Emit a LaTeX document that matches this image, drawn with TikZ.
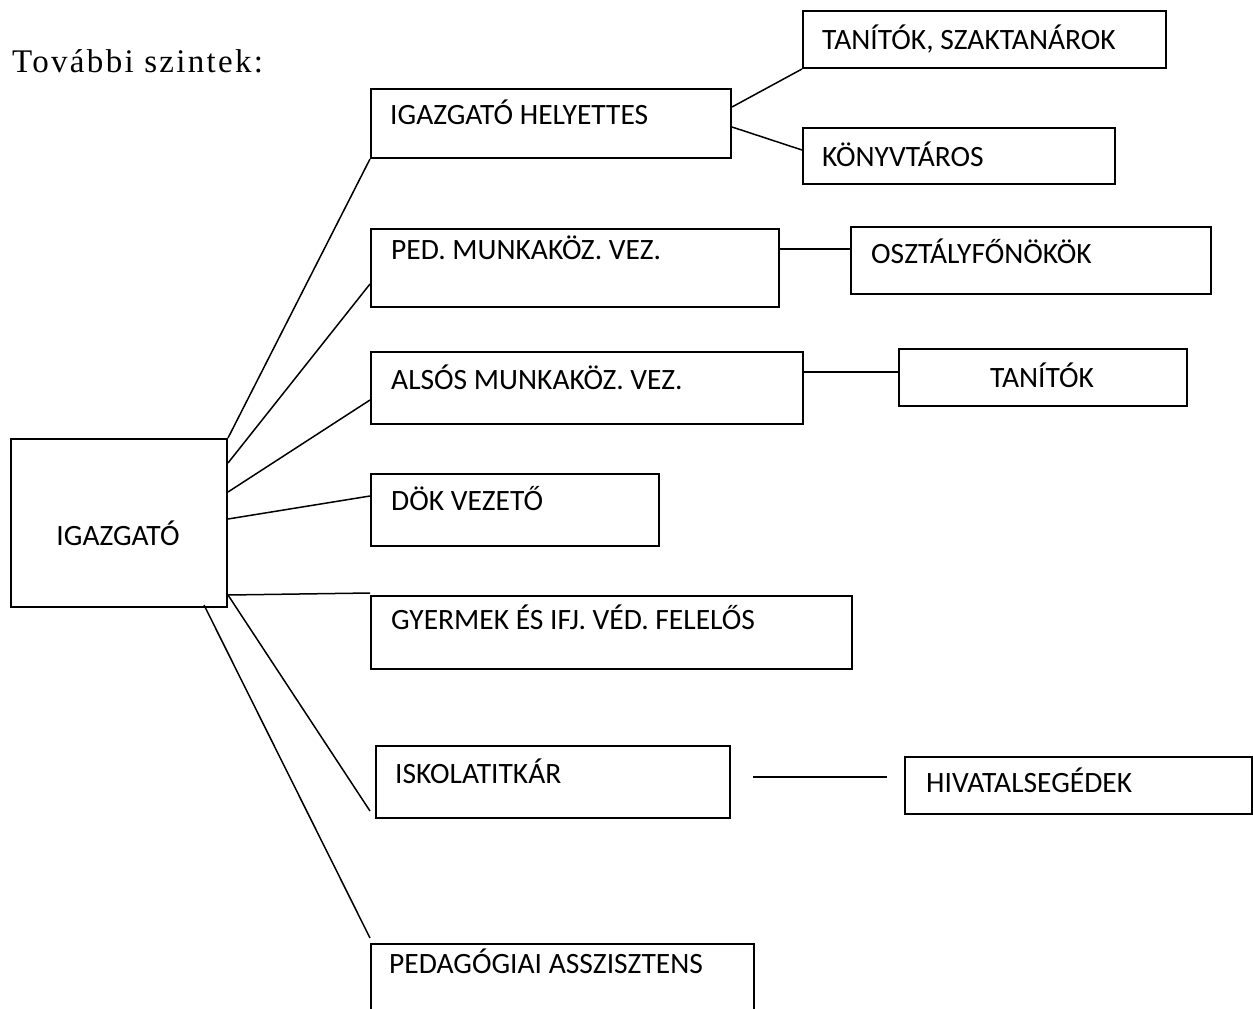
\documentclass[tikz,border=0pt]{standalone}
\usepackage{fontspec}
\usepackage{tikz}
\usetikzlibrary{calc, positioning}
\newfontfamily\dobozbetu{Carlito}
\newfontfamily\cimbetu[LetterSpace=7]{Liberation Serif}
\tikzset{
  doboz/.style={draw, line width=2pt, rectangle, anchor=north west, inner sep=0pt},
  felirat/.style={anchor=base west, inner sep=0pt, font=\dobozbetu\fontsize{29.5}{35}\selectfont},
  vonal/.style={line width=1.5pt}
}

\begin{document}
\begin{tikzpicture}[x=1pt, y=-1pt]
                \useasboundingbox (0,0) rectangle (1253,1009);

                \node[anchor=base west, inner sep=0pt, font=\cimbetu\fontsize{33}{40}\selectfont] (cim) at (12,72) {További szintek:};

                % dobozok
                \node[doboz, minimum width=216, minimum height=168] (igazgato) at (10,438) {};
                \node[doboz, minimum width=360, minimum height=69] (helyettes) at (370,88) {};
                \node[doboz, minimum width=363, minimum height=57] (tanszak) at (802,10) {};
                \node[doboz, minimum width=312, minimum height=56] (konyv) at (802,127) {};
                \node[doboz, minimum width=408, minimum height=78] (ped) at (370,228) {};
                \node[doboz, minimum width=360, minimum height=67] (oszt) at (850,226) {};
                \node[doboz, minimum width=432, minimum height=72] (alsos) at (370,351) {};
                \node[doboz, minimum width=288, minimum height=57] (tanitok) at (898,348) {};
                \node[doboz, minimum width=288, minimum height=72] (dok) at (370,473) {};
                \node[doboz, minimum width=481, minimum height=73] (gyermek) at (370,595) {};
                \node[doboz, minimum width=354, minimum height=72] (iskola) at (375,745) {};
                \node[doboz, minimum width=347, minimum height=57] (hivatal) at (904,756) {};
                \node[doboz, minimum width=383, minimum height=80] (pedassz) at (370,943) {};

                % feliratok
                \node[felirat, anchor=base] (t-igazgato) at (118,545) {IGAZGATÓ};
                \node[felirat] (t-helyettes) at (390,124) {IGAZGATÓ HELYETTES};
                \node[felirat] (t-tanszak) at (822,49) {TANÍTÓK, SZAKTANÁROK};
                \node[felirat] (t-konyv) at (822,166) {KÖNYVTÁROS};
                \node[felirat] (t-ped) at (391,259) {PED. MUNKAKÖZ. VEZ.};
                \node[felirat] (t-oszt) at (871,263) {OSZTÁLYFŐNÖKÖK};
                \node[felirat] (t-alsos) at (391,389) {ALSÓS MUNKAKÖZ. VEZ.};
                \node[felirat, anchor=base] (t-tanitok) at (1042,387) {TANÍTÓK};
                \node[felirat] (t-dok) at (391,510) {DÖK VEZETŐ};
                \node[felirat] (t-gyermek) at (391,629) {GYERMEK ÉS IFJ. VÉD. FELELŐS};
                \node[felirat] (t-iskola) at (395,783) {ISKOLATITKÁR};
                \node[felirat] (t-hivatal) at (926,792) {HIVATALSEGÉDEK};
                \node[felirat] (t-pedassz) at (389,973) {PEDAGÓGIAI ASSZISZTENS};

                % szabad vegek
                \coordinate (isk-vege) at ([xshift=-5pt, yshift=8pt]iskola.south west);
                \coordinate (pa-vege) at ([yshift=5pt]pedassz.north west);
                \coordinate (isk-ki) at ([xshift=22pt, yshift=5pt]iskola.east);
                \coordinate (hiv-be) at ([xshift=-17pt, yshift=1pt]hivatal.west);

                % vonalak az igazgatotol
                \draw[vonal] (igazgato.north east) -- (helyettes.south west);
                \draw[vonal] ([yshift=-25pt]igazgato.north east) -- ([yshift=24pt]ped.south west);
                \draw[vonal] ([yshift=-54pt]igazgato.north east) -- ([yshift=25pt]alsos.south west);
                \draw[vonal] ([yshift=-81pt]igazgato.north east) -- ([yshift=-23pt]dok.north west);
                \draw[vonal] ([yshift=13pt]igazgato.south east) -- ([yshift=2pt]gyermek.north west);
                \draw[vonal] ([yshift=13pt]igazgato.south east) -- (isk-vege);
                \draw[vonal] ([xshift=-24pt, yshift=3pt]igazgato.south east) -- (pa-vege);

                % tovabbi szintek
                \draw[vonal] ([yshift=-19pt]helyettes.north east) -- (tanszak.south west);
                \draw[vonal] ([yshift=-39pt]helyettes.north east) -- ([yshift=-23pt]konyv.north west);
                \draw[vonal] ([yshift=-21pt]ped.north east) -- ([yshift=-21pt]ped.north east -| oszt.west);
                \draw[vonal] ([yshift=-21pt]alsos.north east) -- ([yshift=-21pt]alsos.north east -| tanitok.west);
                \draw[vonal] (isk-ki) -- (hiv-be |- isk-ki);
            \end{tikzpicture}
\end{document}
